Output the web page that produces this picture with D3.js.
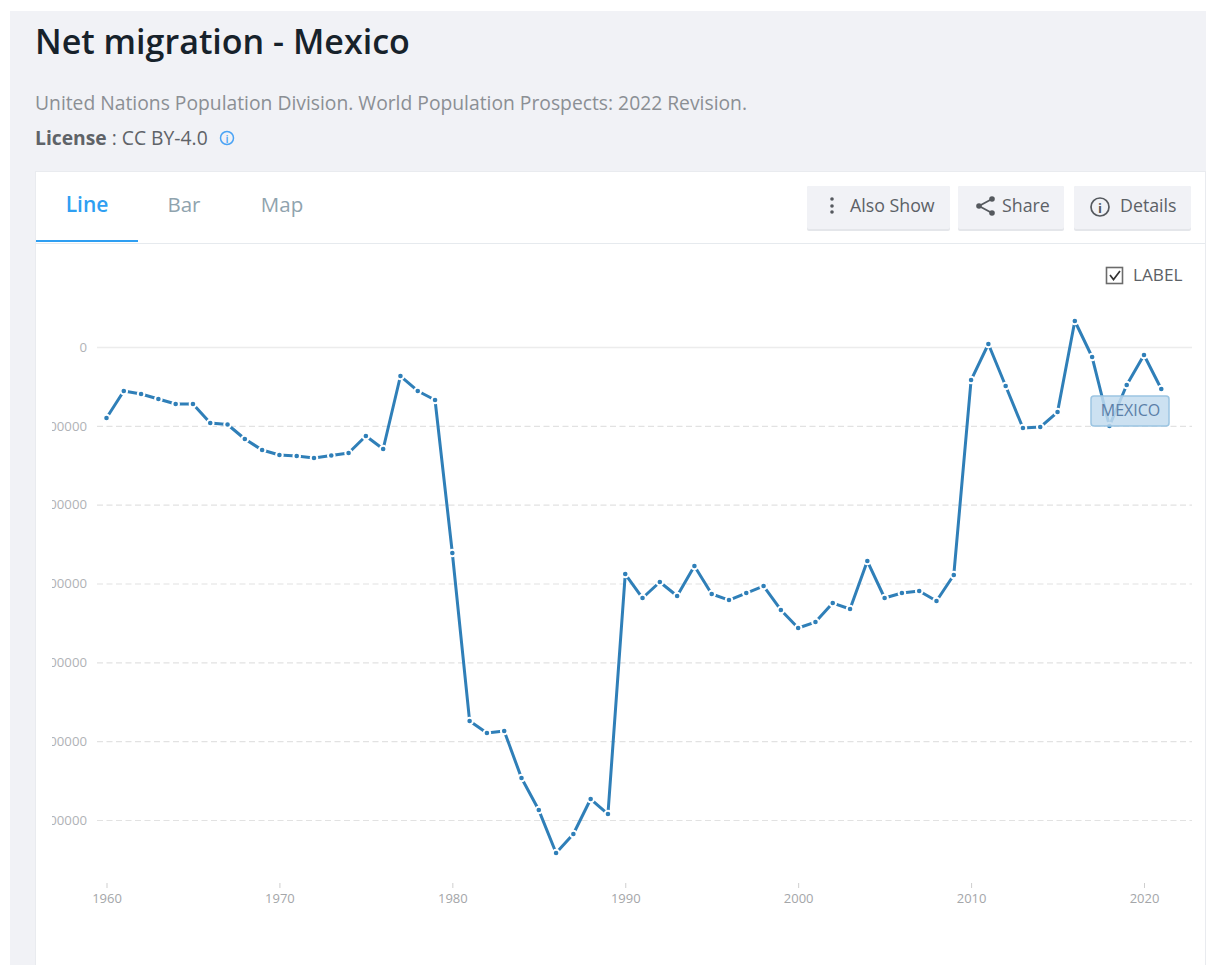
<!DOCTYPE html>
<html><head><meta charset="utf-8">
<script src="https://cdn.jsdelivr.net/npm/d3@7"></script>
<style>html,body{margin:0;padding:0;background:#fff;overflow:hidden}svg{display:block}text{font-family:"Open Sans","Noto Sans",sans-serif}</style>
</head><body><div id="c"></div>
<script>
const years = d3.range(1960, 2022);
const netMigration = [-90000,-55800,-59600,-66000,-72300,-72300,-96400,-98300,-116700,-130700,-137000,-138300,-140800,-137600,-134500,-112900,-129400,-36800,-55800,-67200,-261300,-474500,-489700,-487100,-546800,-587400,-641900,-617800,-573400,-592400,-288000,-318400,-298100,-315900,-277800,-313300,-321000,-312100,-303200,-333600,-356500,-348900,-324800,-332400,-271500,-318400,-312100,-309500,-322200,-289200,-41900,3800,-49500,-102800,-101500,-82500,33000,-12700,-100200,-48200,-10100,-53300];
const yTicks = [0,-100000,-200000,-300000,-400000,-500000,-600000];
const xTicks = [1960,1970,1980,1990,2000,2010,2020];
const tabs = ["Line","Bar","Map"];
const seriesName = "MEXICO";

const svg = d3.select("#c").append("svg").attr("width",1206).attr("height",965);
svg.append("rect").attr("x",10).attr("y",11).attr("width",1196).attr("height",954).attr("fill","#f1f2f6");
svg.append("rect").attr("x",35.5).attr("y",171.5).attr("width",1170).attr("height",794).attr("fill","#fff").attr("stroke","#e9ebef").attr("stroke-width",1);

const T=(x,y,s,size,fill,w,anchor)=>svg.append("text").attr("x",x).attr("y",y).text(s).attr("font-size",size).attr("fill",fill).attr("font-weight",w||400).attr("text-anchor",anchor||"start");
T(35,54,"Net migration - Mexico",34.05,"#17222b",600);
T(35,109.5,"United Nations Population Division. World Population Prospects: 2022 Revision.",19.3,"#8b8f94");
const lic=T(35,145,"",19.3,"#5f6368");
lic.append("tspan").attr("font-weight",700).text("License");
lic.append("tspan").text(" : CC BY-4.0");
svg.append("circle").attr("cx",227).attr("cy",138).attr("r",6.5).attr("fill","none").attr("stroke","#4aa3f5").attr("stroke-width",1.5);
T(227,142.5,"i",11,"#4aa3f5",600,"middle");

// tabs
const tabX=[87,184,282], tabCol=["#2f9ff2","#8fa3ae","#8fa3ae"];
tabs.forEach((t,i)=>T(tabX[i],211.5,t,i==0?21:20.5,tabCol[i],i==0?600:400,"middle"));
svg.append("line").attr("x1",36).attr("x2",1205).attr("y1",243.5).attr("y2",243.5).attr("stroke","#e6eaee");
svg.append("rect").attr("x",36).attr("y",240).attr("width",102).attr("height",2).attr("fill","#2f9ff2");

// buttons
[[807,143,"Also Show",850],[958,106,"Share",1002],[1074,117,"Details",1120]].forEach(b=>{
  svg.append("rect").attr("x",b[0]).attr("y",186).attr("width",b[1]).attr("height",45).attr("rx",2).attr("fill","#e4e6ea");
  svg.append("rect").attr("x",b[0]).attr("y",186).attr("width",b[1]).attr("height",43).attr("rx",2).attr("fill","#f1f2f6");
  T(b[3],212,b[2],17.8,"#5c6166");
});
[199,206,212].forEach(y=>svg.append("circle").attr("cx",832).attr("cy",y).attr("r",1.8).attr("fill","#55595e"));
svg.append("path").attr("d","M992 199L979 206L992 213").attr("fill","none").attr("stroke","#55595e").attr("stroke-width",1.8);
[[992,199],[979,206],[992,213]].forEach(p=>svg.append("circle").attr("cx",p[0]).attr("cy",p[1]).attr("r",2.8).attr("fill","#55595e"));
svg.append("circle").attr("cx",1100).attr("cy",207).attr("r",9).attr("fill","none").attr("stroke","#55595e").attr("stroke-width",1.7);
T(1100,212.5,"i",13,"#55595e",700,"middle");

// label checkbox
svg.append("rect").attr("x",1106.5).attr("y",267.5).attr("width",16).attr("height",16).attr("fill","#fff").attr("stroke","#6b6b6b").attr("stroke-width",1.6);
svg.append("path").attr("d","M1110 275L1113.5 279.5L1120 271").attr("fill","none").attr("stroke","#333").attr("stroke-width",1.7);
T(1133,281,"LABEL",17.2,"#5c6166");

// chart
const x = d3.scaleLinear().domain([1960,2020]).range([106.5,1144]);
const y = d3.scaleLinear().domain([0,-600000]).range([347,820]);
svg.append("clipPath").attr("id","ylab").append("rect").attr("x",52).attr("y",300).attr("width",60).attr("height",560);

const yAxis = svg.append("g").attr("clip-path","url(#ylab)")
  .call(d3.axisLeft(y).tickValues(yTicks).tickSize(0).tickPadding(0).tickFormat(d3.format("d")));
yAxis.select(".domain").remove();
yAxis.selectAll("text").attr("x",87).attr("fill","#b0b2b6").attr("font-size",13.2).attr("text-anchor","end")
  .attr("font-family",'"Open Sans",sans-serif');
svg.append("g").selectAll("line").data(yTicks).join("line")
  .attr("x1",97).attr("x2",1192).attr("y1",d=>y(d)+.5).attr("y2",d=>y(d)+.5)
  .attr("stroke",d=>d===0?"#ececec":"#e2e2e2").attr("stroke-width",d=>d===0?1.3:1.2)
  .attr("stroke-dasharray",d=>d===0?null:"6 3.5");

const xAxis = svg.append("g").attr("transform","translate(0,883)")
  .call(d3.axisBottom(x).tickValues(xTicks).tickSize(5).tickPadding(6).tickFormat(d3.format("d")));
xAxis.select(".domain").remove();
xAxis.selectAll("line").attr("stroke","#cfcfcf");
xAxis.selectAll("text").attr("fill","#a4a6a9").attr("font-size",13).attr("font-family",'"Open Sans",sans-serif');

const data = years.map((yr,i)=>({yr,v:netMigration[i]}));
svg.append("path").datum(data).attr("fill","none").attr("stroke","#2f7fb8").attr("stroke-width",3).attr("stroke-linejoin","round")
  .attr("d",d3.line().x(d=>x(d.yr)).y(d=>y(d.v)));
svg.append("g").selectAll("circle").data(data).join("circle")
  .attr("cx",d=>x(d.yr)).attr("cy",d=>y(d.v)).attr("r",3.3).attr("fill","#2f7fb8").attr("stroke","#fff").attr("stroke-width",2);

// series label
svg.append("rect").attr("x",1091).attr("y",396).attr("width",78).attr("height",30).attr("rx",3)
  .attr("fill","#c3dcee").attr("fill-opacity",.85).attr("stroke","#9cc5e2").attr("stroke-width",1.5);
T(1130.5,416,seriesName,16,"#5b7fa8",400,"middle");
</script></body></html>
